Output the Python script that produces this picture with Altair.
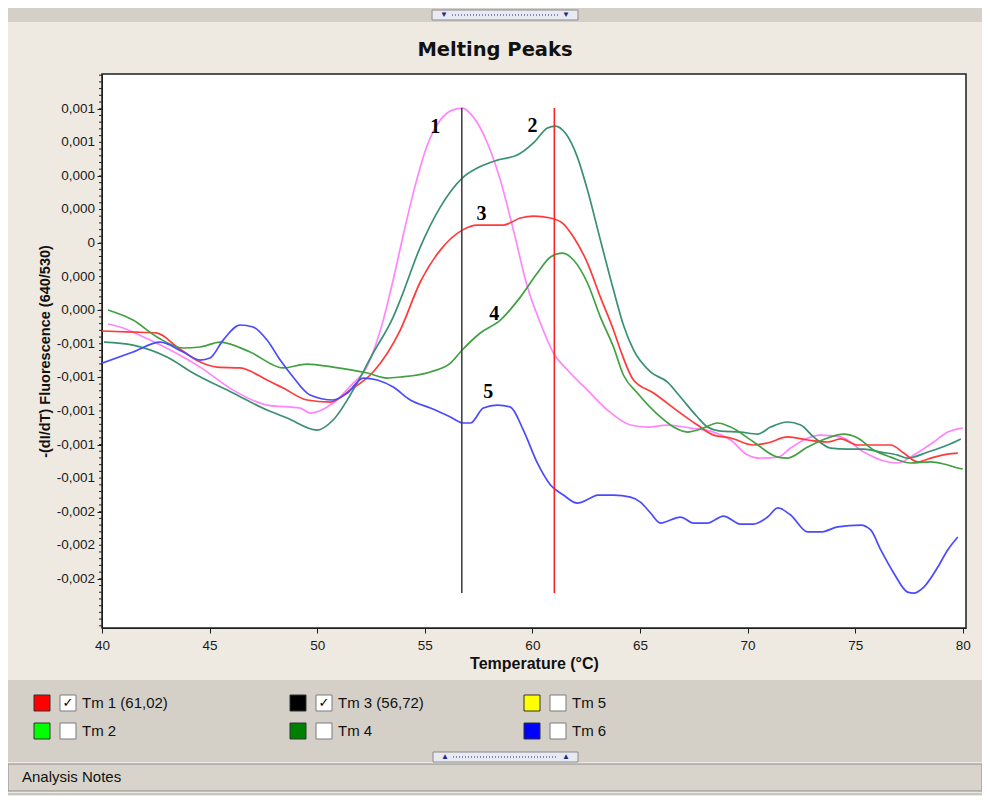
import altair as alt
import pandas as pd

# ---------------- data (temperatures in °C, -(dI/dT) in units of 1e-4) ----------------
pink_t = [40.28, 40.84, 42.23, 43.77, 44.56, 46.09, 47.67, 49.21, 49.67, 50.74, 51.67, 52.23, 52.6,
          53.07, 53.53, 54.0, 54.56, 55.12, 55.72, 56.28, 56.74, 57.26, 57.91, 58.51, 59.12, 59.77,
          60.37, 60.98, 61.63, 62.56, 63.49, 64.56, 65.35, 66.28, 67.35, 68.42, 69.21, 70.0, 70.47,
          71.4, 72.0, 72.6, 73.4, 74.33, 75.4, 76.19, 76.98, 77.72, 78.65, 79.3, 80.0]
pink_v = [-4.82, -5.0, -5.78, -6.79, -7.39, -8.76, -9.65, -9.83, -10.13, -9.53, -8.34, -7.56, -6.49,
          -4.59, -2.2, 0.48, 3.45, 5.84, 7.33, 7.92, 8.04, 7.5, 5.96, 3.75, 0.77, -2.62,
          -4.76, -6.55, -7.56, -8.76, -9.95, -10.84, -10.96, -10.84, -11.02, -11.26, -11.73, -12.63, -12.81,
          -12.75, -12.21, -11.73, -11.44, -11.55, -12.45, -12.92, -13.1, -12.63, -11.85, -11.26, -11.02]

teal_t = [40.09, 41.44, 43.02, 44.23, 46.09, 47.67, 48.6, 50.0, 50.74, 51.67, 52.6, 53.53, 53.86,
          54.79, 55.72, 56.74, 57.44, 58.37, 59.3, 60.05, 60.7, 61.07, 61.53, 62.09, 62.56, 63.16,
          63.77, 64.23, 64.7, 65.49, 66.28, 66.88, 67.67, 68.14, 68.74, 69.67, 70.47, 71.07, 71.86,
          72.47, 73.07, 73.86, 74.65, 75.4, 76.19, 76.98, 77.44, 78.37, 79.3, 79.91]
teal_v = [-5.9, -6.08, -6.79, -7.74, -8.93, -9.95, -10.42, -11.14, -10.54, -8.76, -6.55, -4.41, -3.39,
          -0.24, 2.14, 3.87, 4.47, 4.94, 5.24, 5.96, 6.85, 6.97, 6.55, 5.12, 3.16, 0.18,
          -2.8, -4.88, -6.37, -7.68, -8.28, -9.17, -10.36, -10.96, -11.2, -11.26, -11.38, -10.96, -10.66,
          -10.84, -11.55, -12.21, -12.27, -12.27, -12.45, -12.63, -12.81, -12.45, -12.03, -11.67]

red_t = [40.0, 41.44, 42.56, 43.49, 44.56, 45.35, 46.42, 47.67, 48.42, 49.53, 50.6, 51.53, 52.6,
         53.86, 54.79, 55.72, 56.74, 57.44, 58.65, 59.44, 60.05, 60.84, 61.4, 61.91, 62.56, 63.16,
         63.77, 64.09, 64.7, 65.63, 66.88, 67.67, 68.42, 69.21, 70.28, 70.93, 71.86, 72.79, 73.72,
         74.33, 75.12, 76.65, 77.26, 77.91, 78.51, 79.3, 79.77]
red_v = [-5.24, -5.3, -5.36, -6.19, -7.09, -7.39, -7.44, -8.16, -8.64, -9.35, -9.47, -8.76, -7.68,
         -5.18, -2.32, -0.42, 0.77, 1.07, 1.07, 1.49, 1.61, 1.49, 1.19, 0.36, -1.19, -3.22,
         -5.18, -6.37, -8.16, -8.93, -10.13, -10.84, -11.44, -11.61, -12.03, -11.91, -11.55, -11.73, -11.85,
         -11.67, -12.03, -12.03, -12.51, -13.04, -12.81, -12.57, -12.51]

green_t = [40.28, 41.44, 42.56, 43.77, 44.56, 45.49, 46.88, 48.42, 49.53, 50.74, 52.33, 53.26, 53.86,
           55.26, 56.19, 56.74, 57.58, 58.51, 59.44, 60.23, 60.84, 61.4, 61.91, 62.56, 63.16, 63.77,
           64.23, 64.88, 65.95, 66.56, 67.21, 67.95, 68.6, 69.21, 70.28, 71.4, 71.86, 72.79, 73.72,
           74.47, 75.12, 75.86, 76.65, 77.58, 78.51, 79.12, 79.77, 80.0]
green_v = [-3.99, -4.59, -5.6, -6.25, -6.19, -5.9, -6.49, -7.44, -7.21, -7.39, -7.74, -8.04, -7.98,
           -7.68, -7.15, -6.37, -5.36, -4.59, -3.22, -1.79, -0.83, -0.6, -1.01, -2.38, -4.41, -6.19,
           -7.86, -8.93, -10.36, -10.96, -11.26, -11.02, -10.72, -10.96, -11.85, -12.75, -12.81, -12.15, -11.61,
           -11.38, -11.61, -12.33, -12.75, -13.1, -13.04, -13.16, -13.4, -13.46]

blue_t = [40.0, 41.44, 42.7, 43.77, 44.56, 45.02, 45.63, 46.42, 47.02, 47.67, 48.28, 48.88, 49.67,
          50.74, 51.4, 52.14, 52.79, 53.53, 54.33, 55.26, 56.19, 56.79, 57.12, 57.72, 58.37, 58.98,
          59.58, 60.23, 60.84, 61.44, 62.09, 62.7, 63.02, 63.77, 64.56, 65.02, 65.49, 65.95, 66.88,
          67.49, 68.14, 68.88, 69.67, 70.28, 70.93, 71.4, 72.0, 72.79, 73.4, 74.19, 75.26, 75.72,
          76.19, 76.79, 77.44, 77.72, 78.19, 78.84, 79.3, 79.77]
blue_v = [-7.15, -6.49, -5.9, -6.49, -6.97, -6.85, -5.78, -4.88, -5.0, -5.78, -6.97, -7.98, -9.05,
          -9.35, -8.93, -8.04, -8.16, -8.58, -9.35, -9.83, -10.36, -10.72, -10.72, -9.83, -9.65, -9.77,
          -11.14, -13.1, -14.41, -15.01, -15.49, -15.19, -15.01, -15.01, -15.13, -15.43, -16.08, -16.68, -16.32,
          -16.68, -16.68, -16.26, -16.74, -16.74, -16.32, -15.78, -16.2, -17.21, -17.21, -16.91, -16.8, -17.09,
          -18.28, -19.65, -20.79, -20.85, -20.49, -19.3, -18.28, -17.51]

curve_ids = ["c1", "c2", "c3", "c4", "c5"]
curve_colors = ["#FF85FF", "#3A9072", "#FF3A3A", "#41A041", "#4A4AFF"]

tm_names = ["Tm 3", "Tm 1"]
tm_temps = [56.72, 61.02]
tm_colors = ["#454545", "#FF2424"]
tm_top = 8.04        # 1e-4
tm_bottom = -20.85   # 1e-4

peak_names = ["1", "2", "3", "4", "5"]
peak_t = [55.49, 60.0, 57.63, 58.23, 57.95]
peak_v = [6.91, 6.97, 1.73, -4.23, -8.87]   # 1e-4

x_ticks = [40, 45, 50, 55, 60, 65, 70, 75, 80]
y_ticks = [-0.002, -0.0018, -0.0016, -0.0014, -0.0012, -0.001, -0.0008, -0.0006, -0.0004,
           -0.0002, 0.0, 0.0002, 0.0004, 0.0006, 0.0008]
y_tick_labels = ["-0,002", "-0,002", "-0,002", "-0,001", "-0,001", "-0,001", "-0,001", "-0,001",
                 "0,000", "0,000", "0", "0,000", "0,000", "0,001", "0,001"]

legend_labels = ["Tm 1 (61,02)", "Tm 2", "Tm 3 (56,72)", "Tm 4", "Tm 5", "Tm 6"]
legend_colors = ["#FF0000", "#00FF00", "#000000", "#008000", "#FFFF00", "#0000FF"]
legend_checked = [True, False, True, False, False, False]

E4 = 1e-4
series = [(pink_t, pink_v), (teal_t, teal_v), (red_t, red_v), (green_t, green_v), (blue_t, blue_v)]
rows = []
for cid, (ts, vs) in zip(curve_ids, series):
    assert len(ts) == len(vs), cid
    for t, v in zip(ts, vs):
        rows.append({"curve": cid, "T": t, "v": v * E4})
curves_df = pd.DataFrame(rows)

tm_df = pd.DataFrame({"name": tm_names, "T": tm_temps, "c": tm_colors,
                      "v": [tm_top * E4] * 2, "v2": [tm_bottom * E4] * 2})
peaks_df = pd.DataFrame({"name": peak_names, "T": peak_t, "v": [p * E4 for p in peak_v]})
ytick_df = pd.DataFrame({"v": y_ticks, "lab": y_tick_labels})

# ---------------- layout ----------------
W, H = 864, 554
BEIGE = "#EFEAE1"
GRAY = "#D4D0C8"
FONT = "Liberation Sans"
ONE = pd.DataFrame({"k": [0]})

xs = alt.Scale(domain=[40, 80.15], nice=False, zero=False)
ys = alt.Scale(domain=[-0.002293, 0.001007], nice=False, zero=False)

x_axis = alt.Axis(values=x_ticks, format="d", title="Temperature (°C)", grid=False,
                  tickSize=5, labelPadding=5, labelFontSize=13.5, labelFont=FONT,
                  labelFlush=False, labelOverlap=False,
                  titleFont=FONT, titleFontSize=16, titleFontWeight="bold",
                  titlePadding=4, titleColor="#111")
y_axis = alt.Axis(values=y_ticks, grid=False, tickSize=5, labels=False,
                  title="-(dI/dT) Fluorescence (640/530)", titleFont=FONT, titleFontSize=14.5,
                  titleFontWeight="bold", titlePadding=44, titleColor="#111")


def box(x1, x2, y1, y2, fill, stroke=None, sw=1.0):
    kw = {"fill": fill}
    if stroke:
        kw.update(stroke=stroke, strokeWidth=sw)
    return alt.Chart(ONE).mark_rect(**kw).encode(
        x=alt.value(x1), x2=alt.value(x2), y=alt.value(y1), y2=alt.value(y2))


def label(txt, x, y, size, color="#111", weight="normal", font=FONT, align="left"):
    return alt.Chart(ONE).mark_text(text=txt, fontSize=size, fontWeight=weight, font=font,
                                    color=color, align=align, baseline="middle").encode(
        x=alt.value(x), y=alt.value(y))


def hline(x1, x2, y, color, sw=1.0, dash=None):
    kw = {"color": color, "strokeWidth": sw}
    if dash:
        kw["strokeDash"] = dash
    return alt.Chart(ONE).mark_rule(**kw).encode(x=alt.value(x1), x2=alt.value(x2), y=alt.value(y))


# ---------------- chart layers ----------------
lines = alt.Chart(curves_df).mark_line(strokeWidth=1.7, interpolate="monotone", clip=True).encode(
    x=alt.X("T:Q", scale=xs, axis=x_axis),
    y=alt.Y("v:Q", scale=ys, axis=y_axis),
    color=alt.Color("curve:N", scale=alt.Scale(domain=curve_ids, range=curve_colors), legend=None),
)

minor_vals = [round(-0.00228 + 0.00004 * i, 6) for i in range(83)]
minor = alt.Chart(pd.DataFrame({"v": minor_vals})).mark_rule(color="#222", strokeWidth=1).encode(
    y=alt.Y("v:Q", scale=ys), x=alt.value(-3), x2=alt.value(0))

ytick_text = alt.Chart(ytick_df).mark_text(align="right", baseline="middle", font=FONT,
                                           fontSize=13.5, color="#1A1A1A").encode(
    y=alt.Y("v:Q", scale=ys), x=alt.value(-7), text="lab:N")

tm_rules = alt.Chart(tm_df).mark_rule(strokeWidth=1.6).encode(
    x=alt.X("T:Q", scale=xs),
    y=alt.Y("v:Q", scale=ys), y2="v2:Q",
    color=alt.Color("c:N", scale=None, legend=None),
)

peak_text = alt.Chart(peaks_df).mark_text(font="Liberation Serif", fontSize=20, fontWeight="bold",
                                          color="#000", baseline="middle", align="center").encode(
    x=alt.X("T:Q", scale=xs),
    y=alt.Y("v:Q", scale=ys),
    text="name:N",
)

ui = [
    # top strip with splitter button
    box(-94, 880, -66, -52, GRAY),
    box(330, 476, -64, -54, "#E9E9F1", "#8A8A8A"),
    label("▼", 342, -59, 8, color="#1A2A8A", align="center"),
    label("▼", 464, -59, 8, color="#1A2A8A", align="center"),
    hline(350, 456, -59, "#1A2A8A", 1, [1, 2]),
    # legend panel
    box(-94, 880, 606, 688, GRAY),
    box(331, 476, 678, 688, "#E9E9F1", "#8A8A8A"),
    label("▲", 343, 683, 8, color="#1A2A8A", align="center"),
    label("▲", 464, 683, 8, color="#1A2A8A", align="center"),
    hline(351, 456, 683, "#1A2A8A", 1, [1, 2]),
    # analysis notes strip
    box(-94, 880, 690, 717, "#D8D4CC", "#8C8C8C"),
    label("Analysis Notes", -80, 703, 15),
    hline(-94, 880, 720, "#A0A0A0", 1),
    # chart title
    label("Melting Peaks", 393, -24, 19.5, weight="bold", font="DejaVu Sans", align="center"),
]

# legend items (pixel layout in group coordinates)
col_x = [-68, 188, 422]
row_y = [629, 657]
legend_layers = []
for i, (lab, col, chk) in enumerate(zip(legend_labels, legend_colors, legend_checked)):
    x0 = col_x[i // 2]
    yc = row_y[i % 2]
    legend_layers.append(box(x0, x0 + 16, yc - 8, yc + 8, col, "#333"))
    legend_layers.append(box(x0 + 26, x0 + 42, yc - 8, yc + 8, "white", "#7A7A7A"))
    legend_layers.append(label(lab, x0 + 48, yc, 15))
    if chk:
        legend_layers.append(label("✓", x0 + 34, yc, 13, color="#000", weight="bold",
                                   font="DejaVu Sans", align="center"))

chart = alt.layer(lines, minor, ytick_text, tm_rules, peak_text, *ui, *legend_layers).properties(
    width=W, height=H,
    padding={"left": 94, "top": 66, "right": 16, "bottom": 168},
    autosize=alt.AutoSizeParams(type="none"),
    background=BEIGE,
).configure_view(
    fill="white", stroke="#1E1E1E", strokeWidth=1.5
).configure_axis(
    domainColor="#1E1E1E", tickColor="#1E1E1E", labelColor="#1A1A1A"
)

chart.save("out.html", embed_options={"renderer": "svg", "actions": False})
